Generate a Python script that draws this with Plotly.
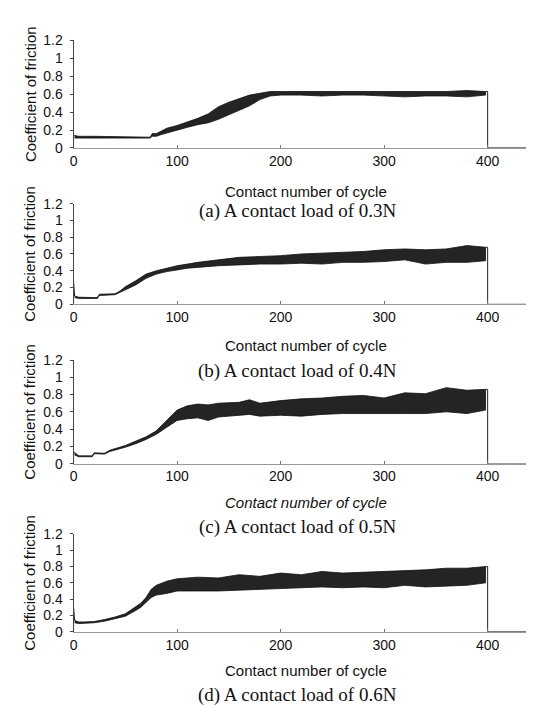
import plotly.graph_objects as go

# ---------------- data ----------------
end_cycle = 400
x_tick_vals = [0, 100, 200, 300, 400]
y_tick_vals = [0, 0.2, 0.4, 0.6, 0.8, 1.0, 1.2]
y_tick_text = ["0", "0.2", "0.4", "0.6", "0.8", "1", "1.2"]

captions = ["(a) A contact load of 0.3N", "(b) A contact load of 0.4N",
            "(c) A contact load of 0.5N", "(d) A contact load of 0.6N"]
x_title = "Contact number of cycle"
y_title = "Coefficient of friction"

# panel (a) 0.3N : envelope of the friction trace
cyc_a = [1, 5, 20, 40, 60, 74, 76, 80, 85, 90, 100, 110, 120, 130, 140, 150, 160,
         170, 180, 190, 200, 220, 240, 260, 280, 300, 320, 340, 360, 380, 398]
low_a = [0.11, 0.115, 0.115, 0.11, 0.11, 0.11, 0.13, 0.13, 0.15, 0.17, 0.20, 0.23,
         0.26, 0.28, 0.32, 0.37, 0.42, 0.47, 0.54, 0.58, 0.59, 0.59, 0.58, 0.59,
         0.59, 0.58, 0.57, 0.58, 0.58, 0.57, 0.59]
high_a = [0.14, 0.13, 0.13, 0.125, 0.12, 0.12, 0.16, 0.16, 0.19, 0.22, 0.25, 0.29,
          0.33, 0.38, 0.46, 0.51, 0.55, 0.59, 0.61, 0.63, 0.63, 0.63, 0.63, 0.63,
          0.63, 0.63, 0.63, 0.63, 0.63, 0.64, 0.63]
spike_a = 0.14

# panel (b) 0.4N
cyc_b = [1, 5, 20, 23, 25, 40, 45, 50, 60, 70, 80, 90, 100, 110, 120, 140, 160, 180,
         200, 220, 240, 260, 280, 300, 320, 340, 360, 380, 398]
low_b = [0.08, 0.07, 0.07, 0.07, 0.105, 0.115, 0.14, 0.17, 0.23, 0.31, 0.36, 0.39,
         0.41, 0.43, 0.44, 0.46, 0.47, 0.48, 0.48, 0.49, 0.48, 0.50, 0.50, 0.51,
         0.53, 0.48, 0.50, 0.50, 0.52]
high_b = [0.10, 0.085, 0.08, 0.08, 0.12, 0.125, 0.16, 0.21, 0.28, 0.36, 0.40, 0.43,
          0.46, 0.48, 0.50, 0.53, 0.56, 0.57, 0.58, 0.60, 0.61, 0.62, 0.63, 0.65,
          0.66, 0.65, 0.66, 0.70, 0.68]
spike_b = 0.27

# panel (c) 0.5N
cyc_c = [1, 5, 18, 20, 30, 35, 50, 60, 70, 80, 90, 100, 110, 120, 130, 140, 160, 170,
         180, 200, 220, 240, 260, 280, 300, 320, 340, 360, 380, 398]
low_c = [0.10, 0.08, 0.08, 0.115, 0.11, 0.14, 0.19, 0.23, 0.28, 0.34, 0.42, 0.50,
         0.52, 0.53, 0.50, 0.54, 0.56, 0.57, 0.55, 0.56, 0.55, 0.57, 0.58, 0.58,
         0.58, 0.58, 0.58, 0.60, 0.58, 0.62]
high_c = [0.13, 0.09, 0.09, 0.125, 0.12, 0.155, 0.21, 0.26, 0.31, 0.38, 0.50, 0.62,
          0.67, 0.69, 0.68, 0.70, 0.71, 0.74, 0.70, 0.73, 0.75, 0.76, 0.78, 0.79,
          0.76, 0.82, 0.81, 0.88, 0.85, 0.86]
spike_c = 0.13

# panel (d) 0.6N
cyc_d = [1, 5, 10, 20, 30, 40, 50, 60, 65, 70, 75, 80, 90, 100, 120, 140, 160, 180,
         200, 220, 240, 260, 280, 300, 320, 340, 360, 380, 398]
low_d = [0.11, 0.10, 0.10, 0.11, 0.13, 0.16, 0.19, 0.26, 0.30, 0.36, 0.42, 0.45,
         0.47, 0.50, 0.50, 0.50, 0.51, 0.52, 0.53, 0.54, 0.55, 0.54, 0.55, 0.54,
         0.57, 0.55, 0.56, 0.57, 0.60]
high_d = [0.14, 0.12, 0.12, 0.125, 0.15, 0.18, 0.22, 0.30, 0.35, 0.42, 0.52, 0.57,
          0.62, 0.65, 0.67, 0.66, 0.70, 0.68, 0.72, 0.70, 0.74, 0.72, 0.73, 0.74,
          0.75, 0.76, 0.78, 0.78, 0.80]
spike_d = 0.30

panels = [(cyc_a, low_a, high_a, spike_a), (cyc_b, low_b, high_b, spike_b),
          (cyc_c, low_c, high_c, spike_c), (cyc_d, low_d, high_d, spike_d)]

# ---------------- layout geometry ----------------
W, H = 534, 706
x_left_px, x_right_px = 62, 522
x_max = 441
# (top px of 1.2, bottom px of 0) for each panel
panel_px = [(25, 135), (192, 295), (352, 458), (530, 630)]
xlab_y_px = [180, 337, 498, 670]
cap_y_px = [200, 363, 523, 695]

SANS = "Liberation Sans, Arial, sans-serif"
SERIF = "Liberation Serif, Times New Roman, serif"

fig = go.Figure()
layout = dict(width=W, height=H, margin=dict(l=0, r=0, t=0, b=0),
              paper_bgcolor="white", plot_bgcolor="white", showlegend=False)
annotations = []

for i, (cyc, low, high, spike) in enumerate(panels):
    n = "" if i == 0 else str(i + 1)
    xa, ya = "x" + n, "y" + n
    # band of the oscillating friction signal
    fig.add_trace(go.Scatter(
        x=cyc + cyc[::-1], y=high + low[::-1], xaxis=xa, yaxis=ya,
        mode="lines", fill="toself", fillcolor="#242424",
        line=dict(color="#111111", width=0.8), hoverinfo="skip"))
    # initial transient spike
    fig.add_trace(go.Scatter(
        x=[0, 0, cyc[0]], y=[0, spike, high[0]], xaxis=xa, yaxis=ya,
        mode="lines", line=dict(color="#111111", width=1), hoverinfo="skip"))
    # end of test: drop to zero
    fig.add_trace(go.Scatter(
        x=[cyc[-1], end_cycle, end_cycle, x_max], y=[high[-1], high[-1], 0, 0],
        xaxis=xa, yaxis=ya, mode="lines",
        line=dict(color="#222222", width=1), hoverinfo="skip"))

    top, bot = panel_px[i]
    ydom = [1 - bot / H, 1 - top / H]
    layout["xaxis" + n] = dict(
        domain=[x_left_px / W, x_right_px / W], range=[0, x_max], anchor=ya,
        tickvals=x_tick_vals, ticks="inside", ticklen=3, tickcolor="#777",
        showline=True, linecolor="#999999", linewidth=1, showgrid=False,
        zeroline=False, ticklabelstandoff=0,
        tickfont=dict(family=SANS, size=14, color="#111"))
    layout["yaxis" + n] = dict(
        domain=ydom, range=[0, 1.2], anchor=xa,
        tickvals=y_tick_vals, ticktext=y_tick_text, ticks="outside", ticklen=3,
        tickcolor="#444", showline=True, linecolor="#444444", linewidth=1,
        showgrid=False, zeroline=False, ticklabelstandoff=4,
        tickfont=dict(family=SANS, size=14, color="#111"))

    annotations.append(dict(
        text=y_title, textangle=-90, x=18 / W, y=1 - (top + bot) / 2 / H,
        xref="paper", yref="paper", showarrow=False, xanchor="center",
        yanchor="middle", font=dict(family=SANS, size=15, color="#111")))
    annotations.append(dict(
        text=x_title, x=296 / W, y=1 - xlab_y_px[i] / H, xref="paper",
        yref="paper", showarrow=False, xanchor="center", yanchor="middle",
        font=dict(family=SANS, size=15, color="#111",
                  style="italic" if i == 2 else "normal")))
    annotations.append(dict(
        text=captions[i], x=288 / W, y=1 - cap_y_px[i] / H, xref="paper",
        yref="paper", showarrow=False, xanchor="center", yanchor="middle",
        font=dict(family=SERIF, size=19, color="#111")))

layout["annotations"] = annotations
fig.update_layout(**layout)
fig.write_html("out.html")
